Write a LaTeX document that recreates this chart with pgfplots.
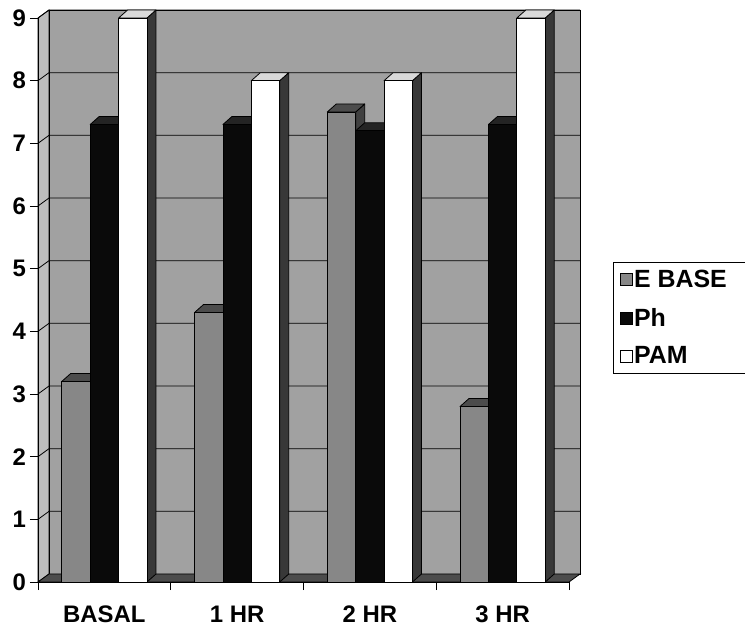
\documentclass[border=0pt]{standalone}
\usepackage{pgfplots}
\pgfplotsset{compat=1.18}
\usepackage{pgfplotstable}
\usepackage{fontspec}
\setmainfont{Liberation Sans}
\definecolor{wallback}{gray}{0.63}
\definecolor{wallside}{gray}{0.74}
\definecolor{floorc}{gray}{0.30}
\definecolor{ebasefront}{gray}{0.53}
\definecolor{ebasetop}{gray}{0.30}
\definecolor{ebaseside}{gray}{0.25}
\definecolor{phfront}{gray}{0.04}
\definecolor{phtop}{gray}{0.14}
\definecolor{phside}{gray}{0.06}
\definecolor{pamfront}{gray}{1}
\definecolor{pamtop}{gray}{0.85}
\definecolor{pamside}{gray}{0.22}

\pgfplotstableread{
g ebase ph pam
0 3.2 7.3 9.0
1 4.3 7.3 8.0
2 7.5 7.2 8.0
3 2.8 7.3 9.0
}\datatable

\def\bw{0.214}
\def\ddx{0.0678}
\def\ddy{0.1277}
\def\wl{-0.4171}
\def\wr{3.5829}
\def\wt{9.1277}

\newcommand\drawbar[4]{%
  \pgfmathsetmacro\xl{#1+(#3)*\bw-\bw/2}%
  \pgfmathsetmacro\xr{\xl+\bw}%
  \pgfmathsetmacro\xlb{\xl+\ddx}%
  \pgfmathsetmacro\xrb{\xr+\ddx}%
  \pgfmathsetmacro\yv{#2}%
  \pgfmathsetmacro\yb{#2+\ddy}%
  \edef\tmp{%
    \noexpand\addplot[forget plot, mark=none, draw=black, line width=0.8pt, line join=round, fill=#4side] coordinates {(\xr,0) (\xrb,\ddy) (\xrb,\yb) (\xr,\yv)} -- cycle;
    \noexpand\addplot[forget plot, mark=none, draw=black, line width=0.8pt, line join=round, fill=#4top] coordinates {(\xl,\yv) (\xr,\yv) (\xrb,\yb) (\xlb,\yb)} -- cycle;
    \noexpand\addplot[forget plot, mark=none, draw=black, line width=0.8pt, line join=round, fill=#4front] coordinates {(\xl,0) (\xr,0) (\xr,\yv) (\xl,\yv)} -- cycle;
  }\tmp
}

\begin{document}
\begin{tikzpicture}
\begin{axis}[
  scale only axis, width=531bp, height=564bp,
  xmin=-0.5, xmax=3.5, ymin=0, ymax=9,
  clip=false, axis on top,
  axis x line*=bottom, axis y line*=left,
  axis line style={black, line width=0.8pt},
  xtick={0,1,2,3}, xticklabels={BASAL,1 HR,2 HR,3 HR},
  xtick style={draw=none},
  extra x ticks={-0.5,0.5,1.5,2.5,3.5}, extra x tick labels={},
  extra x tick style={xtick style={draw=black, line width=0.8pt}},
  ytick={0,...,9},
  tick align=outside, major tick length=8bp,
  ytick style={black, line width=0.8pt},
  tick label style={font=\bfseries\fontsize{24}{27}\selectfont},
  /pgf/number format/assume math mode=true,
  yticklabel style={anchor=east, inner sep=0pt, xshift=-4bp},
  xticklabel style={anchor=base, inner sep=0pt, yshift=-32bp},
  legend style={at={(1.083,0.5675)}, anchor=north west, draw=black, line width=0.8pt,
    font=\bfseries\fontsize{25}{28}\selectfont, inner xsep=7bp, inner ysep=7bp,
    row sep=17bp, nodes={inner sep=1bp}},
  legend cell align=left,
  legend image code/.code={\draw[#1, line width=0.6pt] (0bp,-6bp) rectangle (12bp,6bp);},
]
% walls and floor
\fill[wallside, draw=black, line width=0.8pt] (axis cs:-0.5,0) -- (axis cs:\wl,\ddy) -- (axis cs:\wl,\wt) -- (axis cs:-0.5,9) -- cycle;
\fill[wallback, draw=black, line width=0.8pt] (axis cs:\wl,\ddy) rectangle (axis cs:\wr,\wt);
\fill[floorc, draw=black, line width=0.8pt] (axis cs:-0.5,0) -- (axis cs:3.5,0) -- (axis cs:\wr,\ddy) -- (axis cs:\wl,\ddy) -- cycle;
\pgfplotsinvokeforeach{1,...,9}{
  \draw[black, line width=0.8pt] (axis cs:-0.5,#1) -- (axis cs:\wl,{#1+\ddy}) -- (axis cs:\wr,{#1+\ddy});
}
% bars
\pgfplotsinvokeforeach{0,1,2,3}{
  \pgfplotstablegetelem{#1}{ebase}\of\datatable \let\va\pgfplotsretval
  \drawbar{#1}{\va}{-1}{ebase}
  \pgfplotstablegetelem{#1}{ph}\of\datatable \let\vb\pgfplotsretval
  \drawbar{#1}{\vb}{0}{ph}
  \pgfplotstablegetelem{#1}{pam}\of\datatable \let\vc\pgfplotsretval
  \drawbar{#1}{\vc}{1}{pam}
}
\addlegendimage{fill=ebasefront, draw=black}
\addlegendentry{E BASE\rule{22bp}{0pt}}
\addlegendimage{fill=phfront, draw=black}
\addlegendentry{Ph}
\addlegendimage{fill=pamfront, draw=black}
\addlegendentry{PAM}
\end{axis}
\pgfresetboundingbox
\useasboundingbox (-38bp,-48bp) rectangle (707bp,582bp);
\end{tikzpicture}
\end{document}
